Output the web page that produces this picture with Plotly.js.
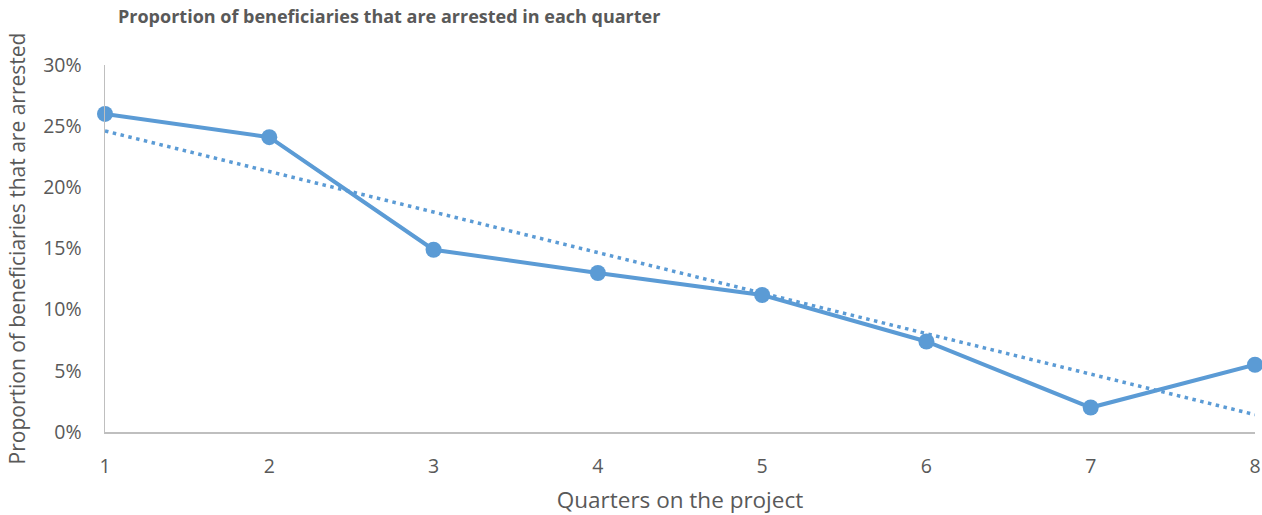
<!DOCTYPE html>
<html>
<head>
<meta charset="utf-8">
<script src="https://cdn.plot.ly/plotly-3.0.1.min.js"></script>
<style>html,body{margin:0;padding:0;background:#fff;}#chart{width:1262px;height:515px;}</style>
</head>
<body>
<div id="chart"></div>
<script>
const quarters = [1, 2, 3, 4, 5, 6, 7, 8];
const arrestedShare = [0.260, 0.241, 0.149, 0.130, 0.112, 0.074, 0.020, 0.055];
const yTickVals = [0, 0.05, 0.10, 0.15, 0.20, 0.25, 0.30];
const yTickText = ['0%', '5%', '10%', '15%', '20%', '25%', '30%'];

// Linear trendline (least squares) computed from the series
const n = quarters.length;
const mx = quarters.reduce((a, b) => a + b, 0) / n;
const my = arrestedShare.reduce((a, b) => a + b, 0) / n;
let sxy = 0, sxx = 0;
for (let i = 0; i < n; i++) { sxy += (quarters[i] - mx) * (arrestedShare[i] - my); sxx += (quarters[i] - mx) ** 2; }
const slope = sxy / sxx, intercept = my - slope * mx;
const trendX = [quarters[0], quarters[n - 1]];
const trendY = trendX.map(x => intercept + slope * x);

const font = 'Open Sans, Noto Sans, sans-serif';
const grey = '#595959';

Plotly.newPlot('chart', [
  {
    x: trendX, y: trendY, type: 'scatter', mode: 'lines',
    line: {color: '#5B9BD5', width: 3.5, dash: '3.5px,4.5px'}, hoverinfo: 'skip', cliponaxis: false
  },
  {
    x: quarters, y: arrestedShare, type: 'scatter', mode: 'lines+markers',
    line: {color: '#5B9BD5', width: 4},
    marker: {color: '#5B9BD5', size: 16},
    cliponaxis: false
  }
], {
  width: 1262, height: 515,
  margin: {l: 105, r: 7, t: 65, b: 83},
  paper_bgcolor: '#fff', plot_bgcolor: '#fff',
  showlegend: false,
  title: {
    text: '<b>Proportion of beneficiaries that are arrested in each quarter</b>',
    font: {family: font, size: 18, color: grey},
    x: 118 / 1262, xanchor: 'left', y: 1 - 17 / 515, yanchor: 'middle', xref: 'container', yref: 'container'
  },
  xaxis: {
    range: [1, 8], tickvals: quarters, ticktext: quarters.map(String),
    showgrid: false, zeroline: false, showline: true, linecolor: '#BFBFBF', linewidth: 1.5,
    ticks: '', ticklabelstandoff: 16,
    tickfont: {family: font, size: 19.5, color: grey},
    title: {text: 'Quarters on the project', font: {family: font, size: 22.5, color: grey}, standoff: 14}
  },
  yaxis: {
    range: [0, 0.3], tickvals: yTickVals, ticktext: yTickText,
    showgrid: false, zeroline: false, showline: true, linecolor: '#BFBFBF', linewidth: 1.5,
    ticks: '', ticklabelstandoff: 18, tickfont: {family: font, size: 19.5, color: grey},
    title: {text: 'Proportion of beneficiaries that are arrested', font: {family: font, size: 21, color: grey}, standoff: 12}
  }
}, {displayModeBar: false, staticPlot: true});
</script>
</body>
</html>
